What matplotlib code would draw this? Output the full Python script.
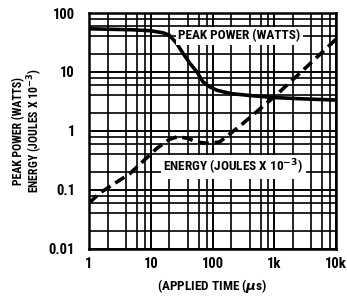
import matplotlib
matplotlib.use("Agg")
import matplotlib.pyplot as plt
from matplotlib.ticker import LogLocator, NullFormatter

# peak power (W) vs applied time (us)
peak_t = [1, 5, 10, 16, 20, 26, 33, 43, 56, 70, 90, 118, 200, 400, 955, 3000, 10000]
peak_w = [54, 52, 50, 46, 42, 31, 21, 14, 10, 6.8, 5.6, 4.9, 4.3, 4.0, 3.7, 3.5, 3.35]

# energy (J x 1e-3) vs applied time (us)
energy_t = [1, 1.5, 4.6, 12.6, 20, 27, 40, 55, 80, 130, 300, 760, 1000, 3000, 10000]
energy_mj = [0.06, 0.089, 0.19, 0.51, 0.72, 0.8, 0.75, 0.65, 0.62, 0.65, 1.3, 3.0, 3.8, 11, 36]

x_ticks = [1, 10, 100, 1000, 10000]
x_labels = ["1", "10", "100", "1k", "10k"]
y_ticks = [0.01, 0.1, 1, 10, 100]
y_labels = ["0.01", "0.1", "1", "10", "100"]

plt.rcParams["font.family"] = ["Liberation Sans Narrow", "Roboto Condensed",
                               "DejaVu Sans Condensed", "Roboto", "DejaVu Sans"]
plt.rcParams["font.weight"] = "bold"

fig = plt.figure(figsize=(3.47, 3.01), dpi=100)
ax = fig.add_axes([0.2565, 0.1728, 0.712, 0.784])

ax.set_xscale("log")
ax.set_yscale("log")
ax.set_xlim(1, 10000)
ax.set_ylim(0.01, 100)

ax.xaxis.set_minor_locator(LogLocator(base=10, subs=(2, 4, 6, 8)))
ax.yaxis.set_minor_locator(LogLocator(base=10, subs=(2, 4, 6, 8)))
ax.xaxis.set_minor_formatter(NullFormatter())
ax.yaxis.set_minor_formatter(NullFormatter())
ax.grid(True, which="major", color="black", linewidth=1.4)
ax.grid(True, which="minor", color="black", linewidth=1.2)
ax.set_axisbelow(True)

ax.plot(peak_t, peak_w, color="black", linewidth=2.6, solid_capstyle="butt")
ax.plot(energy_t, energy_mj, color="black", linewidth=2.6,
        dashes=(3.0, 1.6))

ax.text(28, 41, "PEAK POWER (WATTS)", fontsize=9.5, fontweight="bold",
        ha="left", va="center",
        bbox=dict(facecolor="white", edgecolor="none", pad=1.5))
ax.text(16, 0.245, "ENERGY (JOULES X 10$^{-3}$)", fontsize=9.5,
        fontweight="bold", ha="left", va="center",
        bbox=dict(facecolor="white", edgecolor="none", pad=1.5))

ax.set_xticks(x_ticks)
ax.set_xticklabels(x_labels)
ax.set_yticks(y_ticks)
ax.set_yticklabels(y_labels)
ax.tick_params(which="both", length=0, labelsize=10.5)
ax.tick_params(axis="x", pad=6)
ax.tick_params(axis="y", pad=10)
for lab in ax.get_xticklabels() + ax.get_yticklabels():
    lab.set_fontweight("bold")

for s in ax.spines.values():
    s.set_linewidth(1.8)

ax.set_xlabel("(APPLIED TIME ($\\mu$s)", fontsize=9.5, fontweight="bold",
              labelpad=4)
ax.set_ylabel("PEAK POWER (WATTS)\nENERGY (JOULES X 10$^{-3}$)",
              fontsize=8.5, fontweight="bold", labelpad=3, linespacing=1.0)

fig.savefig("out.png", dpi=100)
